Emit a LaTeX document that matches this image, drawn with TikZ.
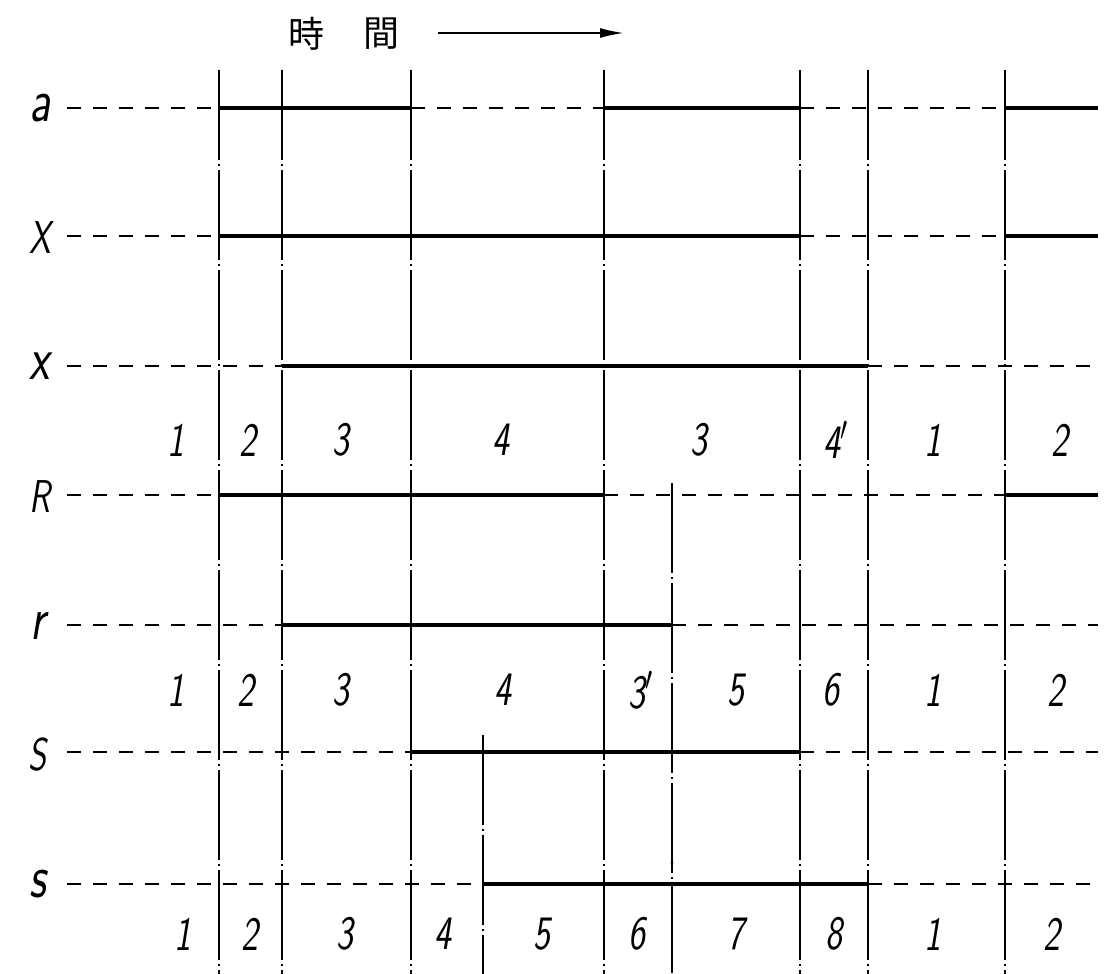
\documentclass[tikz,border=0pt]{standalone}
\usepackage{fontspec}
\newfontfamily\cjk{Noto Sans CJK JP}
\usetikzlibrary{arrows.meta}
\newcommand{\nar}[1]{\scalebox{0.75}[1]{#1}}
\begin{document}
\begin{tikzpicture}[x=0.5pt,y=-0.5pt,
  vline/.style={line width=0.7pt, dash pattern=on 45pt off 2pt on 1pt off 2pt},
  dline/.style={line width=1pt, dash pattern=on 7pt off 6pt},
  sline/.style={line width=1.6pt},
  lab/.style={font=\fontsize{23}{26}\selectfont\sffamily\itshape, inner sep=0pt},
  labs/.style={font=\fontsize{31}{34}\selectfont\sffamily\itshape, inner sep=0pt},
  num/.style={font=\fontsize{24}{27}\selectfont\sffamily\itshape, inner sep=0pt},
  ttl/.style={font=\cjk\fontsize{18}{20}\selectfont, inner sep=0pt}]
\useasboundingbox (0,0) rectangle (1104,974);
% title
\node[ttl] (t1) at (306,34) {時};
\node[ttl] (t2) at (381,34) {間};
\coordinate (arA) at (438,33);
\coordinate (arB) at (624,33);
\draw[line width=1pt, -{Latex[length=12pt,width=5pt]}] (arA) -- (arB);
% verticals
\foreach \x in {219,282,411,604,800,868,1005} {
  \draw[vline] (\x,70) -- (\x,974);
}
\draw[vline] (672,483) -- (672,974);
\draw[vline] (483,735) -- (483,974);
\fill (672,863) circle (1.6);
% row labels
\node[labs] (la) at (40,108) {\nar{a}};
\node[lab] (lX) at (40,238) {\nar{X}};
\node[labs] (lx) at (40,366) {\nar{x}};
\node[lab] (lR) at (40,497) {\nar{R}};
\node[labs] (lr) at (38,626) {\nar{r}};
\node[lab] (lS) at (38,755) {\nar{S}};
\node[labs] (ls) at (38,884) {\nar{s}};
% row a
\draw[dline] (67,108) -- (219,108);
\draw[sline] (219,108) -- (411,108);
\draw[dline] (411,108) -- (604,108);
\draw[sline] (604,108) -- (800,108);
\draw[dline] (800,108) -- (1005,108);
\draw[sline] (1005,108) -- (1098,108);
% row X
\draw[dline] (67,236) -- (219,236);
\draw[sline] (219,236) -- (800,236);
\draw[dline] (800,236) -- (1005,236);
\draw[sline] (1005,236) -- (1098,236);
% row x
\draw[dline] (67,366) -- (282,366);
\draw[sline] (282,366) -- (868,366);
\draw[dline] (868,366) -- (1098,366);
% row R
\draw[dline] (67,495) -- (219,495);
\draw[sline] (219,495) -- (604,495);
\draw[dline] (604,495) -- (1005,495);
\draw[sline] (1005,495) -- (1098,495);
% row r
\draw[dline] (67,625) -- (282,625);
\draw[sline] (282,625) -- (672,625);
\draw[dline] (672,625) -- (1098,625);
% row S
\draw[dline] (67,752) -- (411,752);
\draw[sline] (411,752) -- (800,752);
\draw[dline] (800,752) -- (1098,752);
% row s
\draw[dline] (67,884) -- (483,884);
\draw[sline] (483,884) -- (868,884);
\draw[dline] (868,884) -- (1098,884);
% numbers row 1
\foreach \xx/\tt [count=\i] in {176/1,248/2,341/3,501/4,699/3,836/4$'$,933/1,1060/2} {
  \node[num] (n1-\i) at (\xx,440) {\nar{\tt}};
}
% numbers row 2
\foreach \xx/\tt [count=\i] in {176/1,246/2,341/3,503/4,641/3$'$,736/5,831/6,933/1,1056/2} {
  \node[num] (n2-\i) at (\xx,690) {\nar{\tt}};
}
% numbers row 3
\foreach \xx/\tt [count=\i] in {183/1,250/2,345/3,443/4,542/5,637/6,736/7,834/8,933/1,1052/2} {
  \node[num] (n3-\i) at (\xx,934) {\nar{\tt}};
}
\end{tikzpicture}
\end{document}
